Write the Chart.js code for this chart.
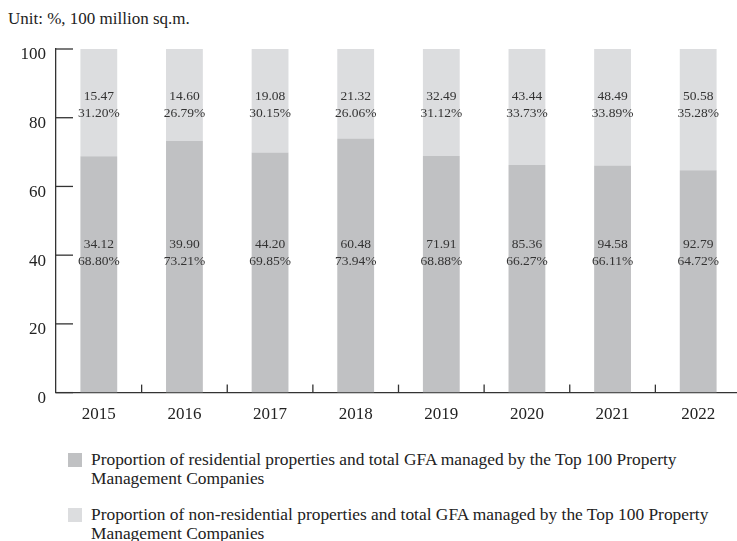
<!DOCTYPE html>
<html>
<head>
<meta charset="utf-8">
<script src="https://cdn.jsdelivr.net/npm/chart.js@4.4.1/dist/chart.umd.min.js"></script>
<style>
  html, body { margin: 0; padding: 0; background: #fff; width: 737px; height: 541px; overflow: hidden; }
  body { position: relative; font-family: "Liberation Serif", "DejaVu Serif", serif; color: #222; }
  #wrap { position: absolute; left: 0; top: 0; width: 745px; height: 443px; }
  .unit { position: absolute; left: 8px; top: 9px; font-size: 17px; line-height: 20px; }
  .lg-box { position: absolute; left: 68px; width: 14px; height: 14px; }
  .lg-text { position: absolute; left: 91px; font-size: 17.4px; line-height: 19px; white-space: nowrap; }
</style>
</head>
<body>
<div class="unit">Unit: %, 100 million sq.m.</div>
<div id="wrap"><canvas id="chart" width="745" height="443"></canvas></div>

<div class="lg-box" style="top:453px; background:#c0c1c3;"></div>
<div class="lg-text" style="top:450px;">Proportion of residential properties and total GFA managed by the Top 100 Property<br>Management Companies</div>
<div class="lg-box" style="top:508px; background:#dcdddf;"></div>
<div class="lg-text" style="top:505px;">Proportion of non-residential properties and total GFA managed by the Top 100 Property<br>Management Companies</div>

<script>
// данные с картинки
const years = ['2015', '2016', '2017', '2018', '2019', '2020', '2021', '2022'];
const residentialGFA = [34.12, 39.90, 44.20, 60.48, 71.91, 85.36, 94.58, 92.79];
const residentialShare = [68.80, 73.21, 69.85, 73.94, 68.88, 66.27, 66.11, 64.72];
const nonResidentialGFA = [15.47, 14.60, 19.08, 21.32, 32.49, 43.44, 48.49, 50.58];
const nonResidentialShare = [31.20, 26.79, 30.15, 26.06, 31.12, 33.73, 33.89, 35.28];
const yTicks = [0, 20, 40, 60, 80, 100];

const serif = '"Liberation Serif", "DejaVu Serif", serif';

// оси, засечки внутрь и подписи на столбцах
const decorPlugin = {
  id: 'decor',
  afterDraw(chart) {
    const ctx = chart.ctx;
    const x = chart.scales.x;
    const y = chart.scales.y;
    const area = chart.chartArea;
    ctx.save();
    ctx.strokeStyle = '#333';
    ctx.lineWidth = 1.3;

    // засечки и подписи оси Y
    ctx.fillStyle = '#222';
    ctx.font = '17px ' + serif;
    ctx.textAlign = 'right';
    ctx.textBaseline = 'middle';
    yTicks.forEach(v => {
      const py = y.getPixelForValue(v);
      ctx.beginPath();
      ctx.moveTo(area.left, py);
      ctx.lineTo(area.left + 17, py);
      ctx.stroke();
      ctx.fillText(String(v), area.left - 10, py + 6);
    });

    // засечки оси X между годами
    const step = x.getPixelForValue(1) - x.getPixelForValue(0);
    for (let i = 1; i < years.length; i++) {
      const px = x.getPixelForValue(i) - step / 2;
      ctx.beginPath();
      ctx.moveTo(px, area.bottom);
      ctx.lineTo(px, area.bottom - 8);
      ctx.stroke();
    }

    // подписи внутри столбцов
    ctx.fillStyle = '#333';
    ctx.font = '13.5px ' + serif;
    ctx.textAlign = 'center';
    const topMid = y.getPixelForValue(83.7);
    const botMid = y.getPixelForValue(40.7);
    years.forEach((yr, i) => {
      const cx = x.getPixelForValue(i);
      ctx.fillText(nonResidentialGFA[i].toFixed(2), cx, topMid - 8.5);
      ctx.fillText(nonResidentialShare[i].toFixed(2) + '%', cx, topMid + 8.5);
      ctx.fillText(residentialGFA[i].toFixed(2), cx, botMid - 8.5);
      ctx.fillText(residentialShare[i].toFixed(2) + '%', cx, botMid + 8.5);
    });
    ctx.restore();
  }
};

new Chart(document.getElementById('chart'), {
  type: 'bar',
  data: {
    labels: years,
    datasets: [
      {
        label: 'Proportion of residential properties and total GFA managed by the Top 100 Property Management Companies',
        data: residentialShare,
        backgroundColor: '#c0c1c3',
        categoryPercentage: 0.43,
        barPercentage: 1
      },
      {
        label: 'Proportion of non-residential properties and total GFA managed by the Top 100 Property Management Companies',
        data: nonResidentialShare,
        backgroundColor: '#dcdddf',
        categoryPercentage: 0.43,
        barPercentage: 1
      }
    ]
  },
  options: {
    responsive: false,
    animation: false,
    layout: { padding: { top: 49, left: 56, right: 4, bottom: 6 } },
    plugins: {
      legend: { display: false },
      tooltip: { enabled: false }
    },
    scales: {
      x: {
        stacked: true,
        grid: { display: false, drawTicks: false },
        border: { display: true, color: '#333', width: 1.3 },
        ticks: { color: '#222', font: { family: serif, size: 17 }, padding: 12 }
      },
      y: {
        stacked: true,
        min: 0,
        max: 100,
        grid: { display: false, drawTicks: false },
        border: { display: true, color: '#333', width: 1.3 },
        ticks: { display: false, stepSize: 20 }
      }
    }
  },
  plugins: [decorPlugin]
});
</script>
</body>
</html>
